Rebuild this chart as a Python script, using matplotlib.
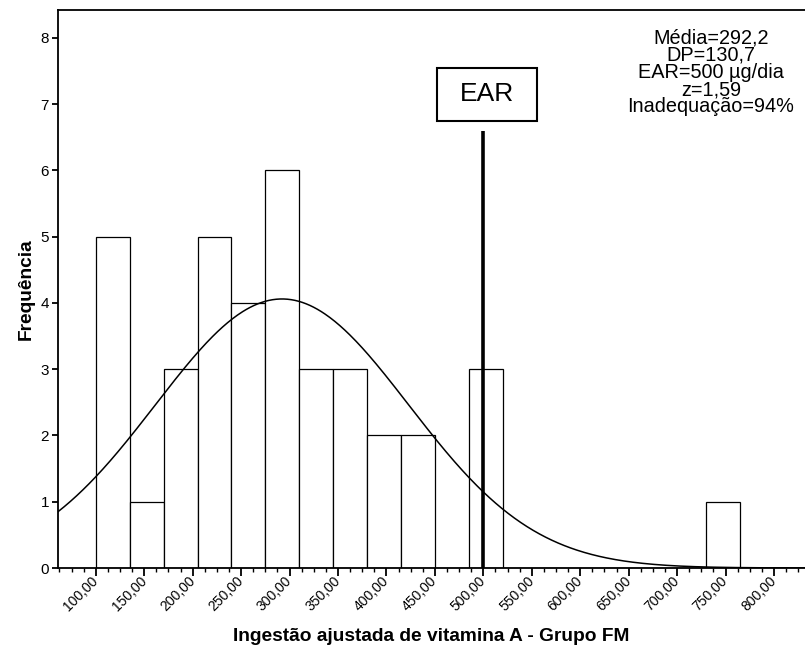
import numpy as np
import matplotlib
matplotlib.use('Agg')
import matplotlib.pyplot as plt
from matplotlib.ticker import MultipleLocator, FuncFormatter
from matplotlib.patches import Rectangle

plt.rcParams['font.family'] = ['Liberation Sans', 'DejaVu Sans']

# histograma da ingestão ajustada (classes de 35 µg)
bin_edges = [100, 135, 170, 205, 240, 275, 310, 345, 380, 415, 450,
             485, 520, 555, 590, 625, 660, 695, 730, 765]
counts = [5, 1, 3, 5, 4, 6, 3, 3, 2, 2, 0, 3, 0, 0, 0, 0, 0, 0, 1]

media = 292.2
dp = 130.7
ear = 500
ear_topo = 6.6  # altura da linha da EAR no eixo de frequência

stats_lines = ['Média=292,2', 'DP=130,7', 'EAR=500 µg/dia', 'z=1,59', 'Inadequação=94%']

fig = plt.figure(figsize=(8.05, 6.48), dpi=100)
ax = fig.add_axes([58 / 805, 80 / 648, 747 / 805, 558 / 648])

largura = np.diff(bin_edges)
ax.bar(bin_edges[:-1], counts, width=largura, align='edge',
       facecolor='white', edgecolor='black', linewidth=0.9, zorder=2)

# curva normal ajustada (escala de frequência)
xlim = (61, 832)
xs = np.linspace(xlim[0], xlim[1], 600)
n = sum(counts)
bw = largura[0]
ys = n * bw / (dp * np.sqrt(2 * np.pi)) * np.exp(-0.5 * ((xs - media) / dp) ** 2)
ax.plot(xs, ys, color='black', linewidth=1.1, zorder=3)

# linha da EAR
ax.vlines(ear, 0, ear_topo, color='black', linewidth=2.6, zorder=4)

# caixa "EAR"
ax.add_patch(Rectangle((0.5074, 0.801), 0.1339, 0.095, transform=ax.transAxes,
                       facecolor='white', edgecolor='black', linewidth=1.5,
                       clip_on=False, zorder=5))
ax.text(0.5743, 0.8486, 'EAR', transform=ax.transAxes, ha='center', va='center',
        fontsize=19, zorder=6)

# estatísticas no canto superior direito
y0 = (568 - 38) / 558
passo = 17.2 / 558
for i, linha in enumerate(stats_lines):
    ax.text(0.874, y0 - i * passo, linha, transform=ax.transAxes,
            ha='center', va='center', fontsize=14.3)

ax.set_xlim(*xlim)
ax.set_ylim(0, 8.42)

ax.xaxis.set_minor_locator(MultipleLocator(12.5))
ax.xaxis.set_major_formatter(FuncFormatter(lambda v, p: f'{v:.2f}'.replace('.', ',')))
ax.set_xticks([v for v in range(100, 801, 50)])
ax.yaxis.set_major_locator(MultipleLocator(1))

ax.tick_params(axis='x', which='major', length=6, width=1.3, labelsize=10, pad=2)
ax.tick_params(axis='x', which='minor', length=3, width=1.0)
ax.tick_params(axis='y', which='major', length=4.5, width=1.3, labelsize=11, pad=2)
for lbl in ax.get_xticklabels():
    lbl.set_rotation(45)
    lbl.set_ha('right')
    lbl.set_va('center')
    lbl.set_rotation_mode('anchor')

for s in ['left', 'bottom', 'top']:
    ax.spines[s].set_linewidth(1.3)
ax.spines['right'].set_visible(False)

ax.set_xlabel('Ingestão ajustada de vitamina A - Grupo FM', fontsize=13.8,
              fontweight='bold', labelpad=10)
ax.set_ylabel('Frequência', fontsize=13.8, fontweight='bold', labelpad=4)

fig.savefig('out.png', dpi=100)
